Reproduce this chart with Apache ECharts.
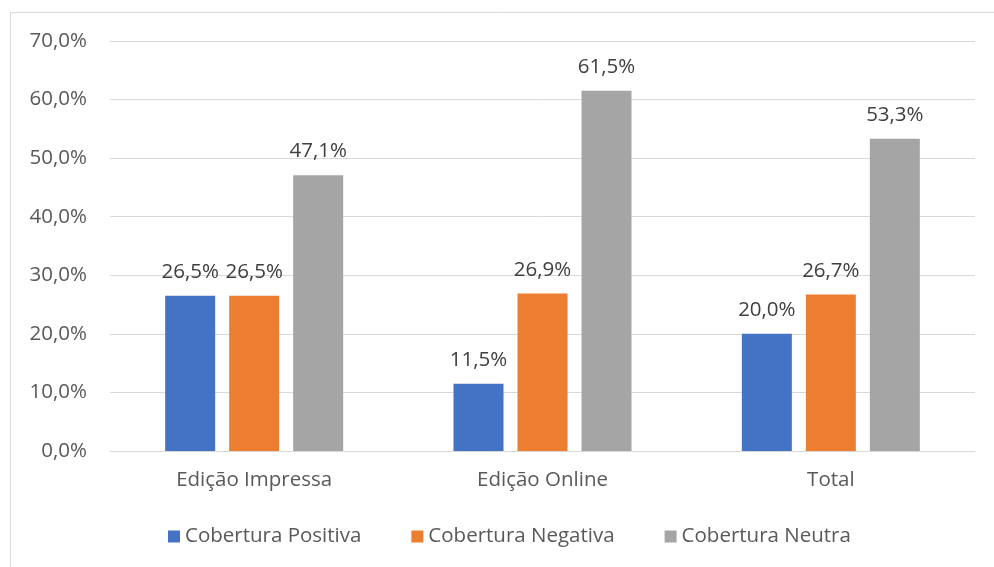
<!DOCTYPE html>
<html lang="pt">
<head>
<meta charset="UTF-8">
<title>Cobertura</title>
<script src="https://cdn.jsdelivr.net/npm/echarts@6/dist/echarts.min.js"></script>
<style>
  html, body { margin: 0; padding: 0; background: #fff; }
  #main { width: 994px; height: 567px; }
</style>
</head>
<body>
<div id="main"></div>
<script>
// categorias e valores (%)
var categorias = ['Edição Impressa', 'Edição Online', 'Total'];
var positiva = [26.5, 11.5, 20.0];
var negativa = [26.5, 26.9, 26.7];
var neutra = [47.1, 61.5, 53.3];

var fonte = '"Open Sans", "Noto Sans", sans-serif';
var tam = 20.5;

function pct(v) {
    return Number(v).toFixed(1).replace('.', ',') + '%';
}

function serie(nome, dados, cor) {
    return {
        name: nome,
        type: 'bar',
        data: dados,
        barWidth: 50,
        barGap: '28%',
        itemStyle: { color: cor },
        label: {
            show: true,
            position: 'top',
            distance: 13,
            color: '#404040',
            fontSize: tam,
            fontFamily: fonte,
            formatter: function (p) { return pct(p.value); }
        }
    };
}

var myChart = echarts.init(document.getElementById('main'));
var option = {
    animation: false,
    textStyle: { fontFamily: fonte },
    graphic: [{
        type: 'rect',
        shape: { x: 10.5, y: 12.5, width: 1000, height: 600 },
        style: { fill: 'none', stroke: '#d9d9d9', lineWidth: 1 },
        silent: true
    }],
    grid: { left: 110, right: 19, top: 41, bottom: 116 },
    legend: {
        bottom: 15,
        left: 163,
        itemWidth: 12,
        itemHeight: 12,
        itemGap: 50,
        icon: 'rect',
        textStyle: { fontSize: tam, color: '#595959', fontFamily: fonte },
        data: ['Cobertura Positiva', 'Cobertura Negativa', 'Cobertura Neutra']
    },
    xAxis: {
        type: 'category',
        data: categorias,
        axisTick: { show: false },
        axisLine: { lineStyle: { color: '#d9d9d9', width: 1 } },
        axisLabel: { fontSize: tam, color: '#595959', margin: 19, fontFamily: fonte }
    },
    yAxis: {
        type: 'value',
        min: 0,
        max: 70,
        interval: 10,
        axisLine: { show: false },
        axisTick: { show: false },
        splitLine: { lineStyle: { color: '#d9d9d9', width: 1 } },
        axisLabel: {
            fontSize: tam, color: '#595959', margin: 23, fontFamily: fonte,
            formatter: function (v) { return pct(v); }
        }
    },
    series: [
        serie('Cobertura Positiva', positiva, '#4472c4'),
        serie('Cobertura Negativa', negativa, '#ed7d31'),
        serie('Cobertura Neutra', neutra, '#a5a5a5')
    ]
};
myChart.setOption(option);
</script>
</body>
</html>
